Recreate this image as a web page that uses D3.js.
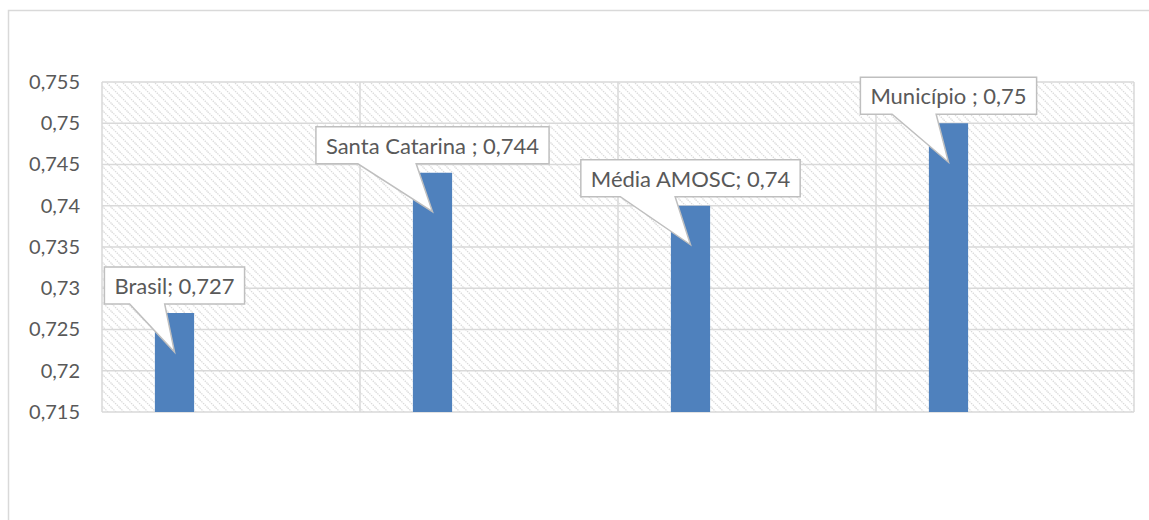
<!DOCTYPE html>
<html>
<head>
<meta charset="utf-8">
<script src="https://cdn.jsdelivr.net/npm/d3@7"></script>
<style>
  body { margin: 0; background: #fff; }
  svg text { font-family: Lato, "Open Sans", sans-serif; fill: #595959; }
</style>
</head>
<body>
<div id="chart"></div>
<script>
// chart values
var categories = ['Brasil', 'Santa Catarina', 'Média AMOSC', 'Município'];
var values = [0.727, 0.744, 0.74, 0.75];
var labels = ['Brasil; 0,727', 'Santa Catarina ; 0,744', 'Média AMOSC; 0,74', 'Município ; 0,75'];
var yTicks = [0.715, 0.72, 0.725, 0.73, 0.735, 0.74, 0.745, 0.75, 0.755];

var width = 1149,
  height = 520,
  plotLeft = 102,
  plotRight = 1134,
  plotTop = 82,
  plotBottom = 412,
  grid = '#d9d9d9';

var svg = d3.select('#chart')
  .append('svg')
  .attr('width', width)
  .attr('height', height);

// hatch fill of plot area
var pat = svg.append('defs')
  .append('pattern')
  .attr('id', 'hatch')
  .attr('patternUnits', 'userSpaceOnUse')
  .attr('width', 8)
  .attr('height', 8);
pat.append('rect').attr('width', 8).attr('height', 8).attr('fill', '#fff');
pat.append('path')
  .attr('d', 'M-2,-2L10,10M-2,6L2,10M6,-2L10,2')
  .attr('stroke', '#dadada')
  .attr('stroke-width', 1.3)
  .attr('stroke-dasharray', '1.4,1');

// outer chart border
svg.append('rect')
  .attr('x', 8.5).attr('y', 10.5)
  .attr('width', width).attr('height', height)
  .attr('fill', 'none')
  .attr('stroke', grid)
  .attr('stroke-width', 1.5);

var x = d3.scaleBand()
  .domain(categories)
  .range([plotLeft, plotRight]);

var y = d3.scaleLinear()
  .domain([0.715, 0.755])
  .range([plotBottom, plotTop]);

svg.append('rect')
  .attr('x', plotLeft).attr('y', plotTop)
  .attr('width', plotRight - plotLeft).attr('height', plotBottom - plotTop)
  .attr('fill', 'url(#hatch)');

// horizontal grid
svg.selectAll('.hgrid')
  .data(yTicks)
  .enter()
  .append('line')
  .attr('class', 'hgrid')
  .attr('x1', plotLeft).attr('x2', plotRight)
  .attr('y1', function(d) { return y(d); })
  .attr('y2', function(d) { return y(d); })
  .attr('stroke', grid)
  .attr('stroke-width', 1.5);

// vertical grid at category edges
var edges = categories.map(function(c) { return x(c); }).concat([plotRight]);
svg.selectAll('.vgrid')
  .data(edges)
  .enter()
  .append('line')
  .attr('class', 'vgrid')
  .attr('x1', function(d) { return d; })
  .attr('x2', function(d) { return d; })
  .attr('y1', plotTop).attr('y2', plotBottom)
  .attr('stroke', grid)
  .attr('stroke-width', 1.5);

// y axis labels
var yAxis = d3.axisLeft(y)
  .tickValues(yTicks)
  .tickSize(0)
  .tickPadding(22)
  .tickFormat(function(d) { return String(+d.toFixed(3)).replace('.', ','); });

var ax = svg.append('g')
  .attr('transform', 'translate(' + plotLeft + ',0)')
  .call(yAxis);
ax.select('.domain').remove();
ax.selectAll('text')
  .attr('font-size', 20)
  .style('font-family', 'Lato, sans-serif')
  .attr('fill', '#595959');

// bars
var bw = x.bandwidth();
svg.selectAll('.bar')
  .data(values)
  .enter()
  .append('rect')
  .attr('class', 'bar')
  .attr('x', function(d, i) { return x(categories[i]) + bw * 0.205; })
  .attr('width', bw * 0.152)
  .attr('y', function(d) { return y(d); })
  .attr('height', function(d) { return plotBottom - y(d); })
  .attr('fill', '#4f81bd');

// callouts
var callouts = svg.selectAll('.callout')
  .data(values)
  .enter()
  .append('g')
  .attr('class', 'callout');

callouts.each(function(d, i) {
  var g = d3.select(this);
  var cx = x(categories[i]) + bw * 0.205 + bw * 0.076;
  var top0 = y(d);
  var t = g.append('text')
    .attr('font-size', 22)
    .attr('text-anchor', 'middle')
    .attr('x', cx)
    .attr('y', top0 - 19)
    .text(labels[i]);
  var tw = t.node().getComputedTextLength();
  var w = tw + 20, h = 37;
  var bx = cx - w / 2, by = top0 - 9 - h;
  var tipY = top0 + 39;
  var path = 'M' + bx + ',' + by +
    'H' + (bx + w) + 'V' + (by + h) +
    'H' + (bx + w * 0.43) +
    'L' + cx + ',' + tipY +
    'L' + (bx + w * 0.18) + ',' + (by + h) +
    'H' + bx + 'Z';
  g.insert('path', 'text')
    .attr('d', path)
    .attr('fill', '#fff')
    .attr('stroke', '#bfbfbf')
    .attr('stroke-width', 1.5);
});
</script>
</body>
</html>
